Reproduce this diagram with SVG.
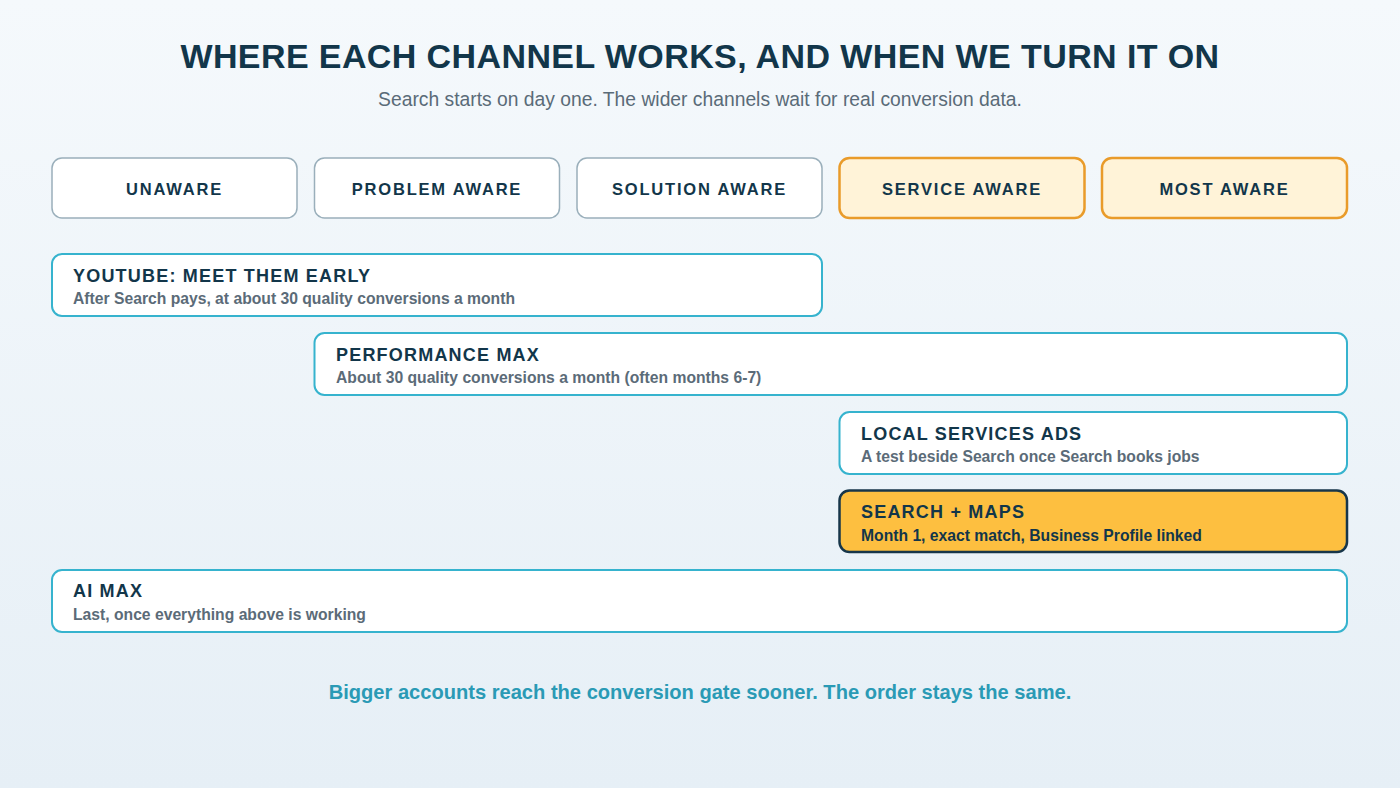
<svg xmlns="http://www.w3.org/2000/svg" width="1400" height="788" viewBox="0 0 1400 788">
<defs>
<linearGradient id="bg" x1="0" y1="0" x2="0" y2="1">
<stop offset="0" stop-color="#f5f9fc"/>
<stop offset="1" stop-color="#e6eff6"/>
</linearGradient>
<style>
text{font-family:"Liberation Sans",Arial,sans-serif;font-weight:bold;}
.title{font-size:34px;fill:#12364a;letter-spacing:0.4px;text-anchor:middle;}
.sub{font-size:19.3px;font-weight:normal;fill:#5a6b78;text-anchor:middle;}
.hdr{fill:#fff;stroke:#9aafbb;stroke-width:1.5;}
.hdrHot{fill:#fff3d8;stroke:#e99b2a;stroke-width:2.5;}
.hdrT{font-size:16.5px;fill:#12364a;letter-spacing:1.8px;text-anchor:middle;}
.bar{fill:#fff;stroke:#36b3ce;stroke-width:2;}
.barHot{fill:#fdbf40;stroke:#17364a;stroke-width:2.5;}
.barT{font-size:18px;fill:#12364a;letter-spacing:1.2px;}
.barS{font-size:15.7px;fill:#5b6b78;}
.barSHot{font-size:15.7px;fill:#12364a;}
.foot{font-size:20.1px;fill:#2a9ab5;text-anchor:middle;}
</style>
</defs>
<rect width="1400" height="788" fill="url(#bg)"/>
<text class="title" x="700" y="68">WHERE EACH CHANNEL WORKS, AND WHEN WE TURN IT ON</text>
<text class="sub" x="700" y="106">Search starts on day one. The wider channels wait for real conversion data.</text>
<g id="connectors"></g>
<g id="stage-unaware"><rect class="hdr" x="52" y="158" width="245" height="60" rx="10"/><text class="hdrT" x="174.5" y="195">UNAWARE</text></g>
<g id="stage-problem"><rect class="hdr" x="314.5" y="158" width="245" height="60" rx="10"/><text class="hdrT" x="437" y="195">PROBLEM AWARE</text></g>
<g id="stage-solution"><rect class="hdr" x="577" y="158" width="245" height="60" rx="10"/><text class="hdrT" x="699.5" y="195">SOLUTION AWARE</text></g>
<g id="stage-service"><rect class="hdrHot" x="839.5" y="158" width="245" height="60" rx="10"/><text class="hdrT" x="962" y="195">SERVICE AWARE</text></g>
<g id="stage-most"><rect class="hdrHot" x="1102" y="158" width="245" height="60" rx="10"/><text class="hdrT" x="1224.5" y="195">MOST AWARE</text></g>
<g id="youtube"><rect class="bar" x="52" y="254" width="770" height="62" rx="10"/><text class="barT" x="73" y="282">YOUTUBE: MEET THEM EARLY</text><text class="barS" x="73" y="304">After Search pays, at about 30 quality conversions a month</text></g>
<g id="pmax"><rect class="bar" x="314.5" y="333" width="1032.5" height="62" rx="10"/><text class="barT" x="336" y="361">PERFORMANCE MAX</text><text class="barS" x="336" y="383">About 30 quality conversions a month (often months 6-7)</text></g>
<g id="lsa"><rect class="bar" x="839.5" y="412" width="507.5" height="62" rx="10"/><text class="barT" x="861" y="440">LOCAL SERVICES ADS</text><text class="barS" x="861" y="462">A test beside Search once Search books jobs</text></g>
<g id="search"><rect class="barHot" x="839.5" y="490.5" width="507.5" height="61.5" rx="10"/><text class="barT" x="861" y="518">SEARCH + MAPS</text><text class="barSHot" x="861" y="541">Month 1, exact match, Business Profile linked</text></g>
<g id="aimax"><rect class="bar" x="52" y="570" width="1295" height="62" rx="10"/><text class="barT" x="73" y="597">AI MAX</text><text class="barS" x="73" y="620">Last, once everything above is working</text></g>
<text class="foot" x="700" y="699">Bigger accounts reach the conversion gate sooner. The order stays the same.</text>
</svg>
